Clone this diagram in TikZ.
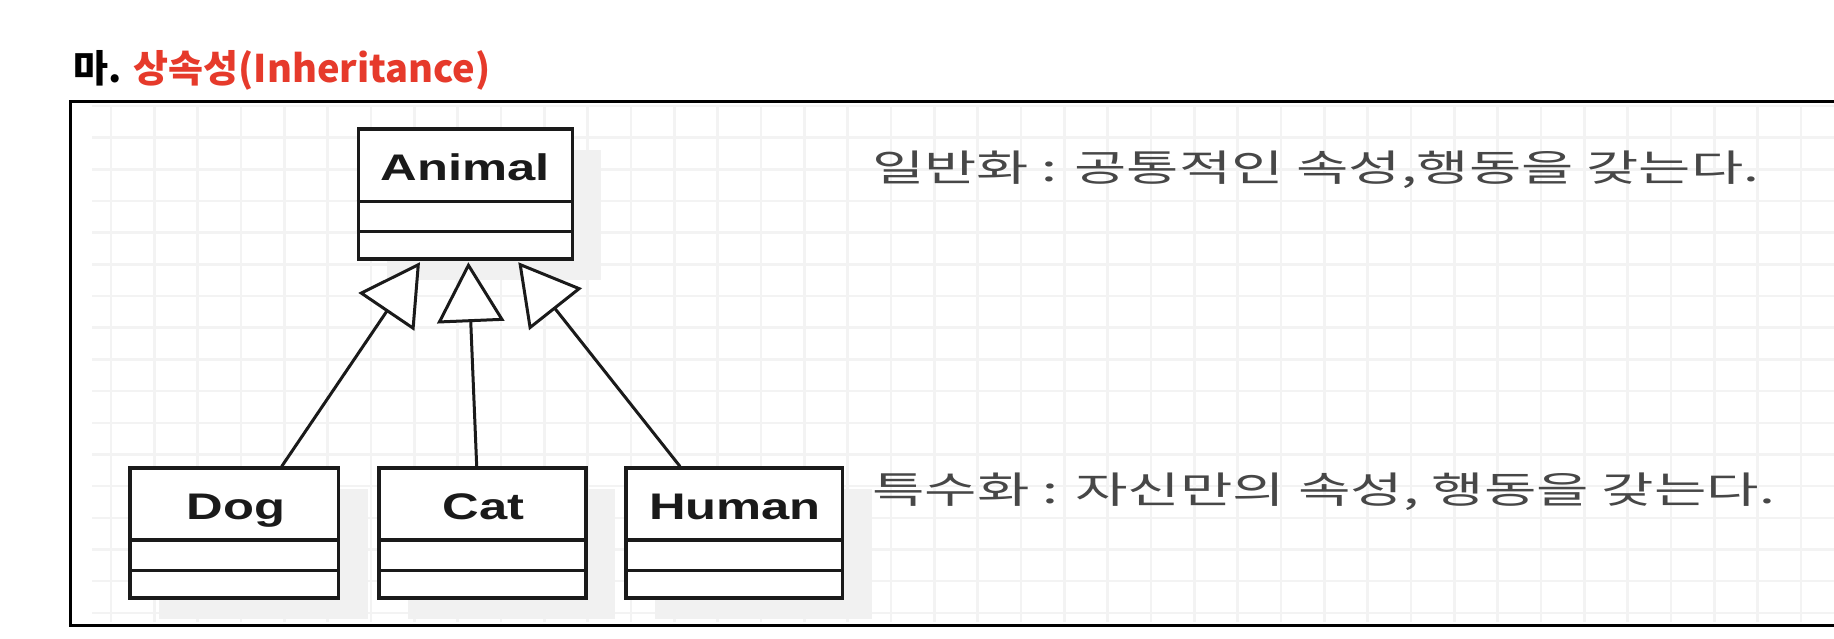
\documentclass[tikz,border=0pt]{standalone}
\usepackage{fontspec}
\usepackage{graphicx}
\setmainfont{Liberation Sans}
\newfontfamily\umlfont[FakeStretch=1.37]{Liberation Sans}
\newfontfamily\krfont{Noto Sans CJK KR}
\usetikzlibrary{arrows.meta}
\definecolor{titlered}{HTML}{E63A2B}
\definecolor{gridgray}{HTML}{F3F3F3}
\definecolor{shadowgray}{HTML}{F1F1F1}
\definecolor{ink}{HTML}{1A1A1A}
\begin{document}
\begin{tikzpicture}[x=1pt,y=-1pt,
  classbox/.style={draw=ink, line width=3.2pt, fill=white, inner sep=0pt, minimum height=130pt},
  shadowbox/.style={fill=shadowgray, draw=none},
  clsname/.style={font=\umlfont\bfseries\fontsize{37}{40}\selectfont, anchor=base, inner sep=0pt, text=ink},
  divline/.style={draw=ink, line width=3.2pt},
  inherit/.style={draw=ink, line width=3pt, -{Triangle[length=60pt, width=67pt, fill=white, line width=3pt]}},
  gridline/.style={draw=gridgray, line width=2.4pt},
  frameline/.style={draw=black, line width=3pt},
  krtext/.style={font=\krfont\fontsize{37}{40}\selectfont, text=black!72, anchor=base west, inner sep=0pt}]
\useasboundingbox (0,0) rectangle (1834,638);
\fill[white] (0,0) rectangle (1834,638);

% grid
\foreach \i in {0,...,39} {\draw[gridline] ({111+43.333*\i},105) -- ({111+43.333*\i},622);}
\foreach \j in {0,...,16} {\draw[gridline] (92,{106+31.67*\j}) -- (1834,{106+31.67*\j});}

% frame (open to the right)
\draw[frameline] (1840,101.7) -- (70.5,101.7) -- (70.5,625) -- (1840,625);

% title
\node[anchor=base west, inner sep=0pt] (title) at (73.5,82)
  {\resizebox{417pt}{\height}{\krfont\bfseries\fontsize{38}{40}\selectfont 마. \textcolor{titlered}{상속성(Inheritance)}}};

% shadows
\fill[shadowbox] (387.3,150) rectangle (601.3,280);
\fill[shadowbox] (159,489) rectangle (367.7,619);
\fill[shadowbox] (408,489) rectangle (615,619);
\fill[shadowbox] (655,489) rectangle (871.5,619);

% classes
\node[classbox, minimum width=214pt] (animal) at (465.3,194) {};
\draw[divline] ([yshift=-74.3pt]animal.north west) -- ([yshift=-74.3pt]animal.north east);
\draw[divline] ([yshift=-104.3pt]animal.north west) -- ([yshift=-104.3pt]animal.north east);
\node[clsname] (animal-name) at (465.3,180) {Animal};

\node[classbox, minimum width=208.7pt] (dog) at (234.3,533) {};
\draw[divline] ([yshift=-73.5pt]dog.north west) -- ([yshift=-73.5pt]dog.north east);
\draw[divline] ([yshift=-104pt]dog.north west) -- ([yshift=-104pt]dog.north east);
\node[clsname] (dog-name) at (236,519) {Dog};

\node[classbox, minimum width=207pt] (cat) at (482.5,533) {};
\draw[divline] ([yshift=-73.5pt]cat.north west) -- ([yshift=-73.5pt]cat.north east);
\draw[divline] ([yshift=-104pt]cat.north west) -- ([yshift=-104pt]cat.north east);
\node[clsname] (cat-name) at (483.6,519) {Cat};

\node[classbox, minimum width=216.5pt] (human) at (734.25,533) {};
\draw[divline] ([yshift=-73.5pt]human.north west) -- ([yshift=-73.5pt]human.north east);
\draw[divline] ([yshift=-104pt]human.north west) -- ([yshift=-104pt]human.north east);
\node[clsname] (human-name) at (735,519) {Human};

% inheritance arrows
\draw[inherit] ([xshift=47.4pt]dog.north) -- ([xshift=-45.3pt,yshift=-1.6pt]animal.south);
\draw[inherit] ([xshift=-5.8pt]cat.north) -- ([xshift=3pt,yshift=-1.6pt]animal.south);
\draw[inherit] ([xshift=-54.25pt]human.north) -- ([xshift=53pt,yshift=-1.6pt]animal.south);

% descriptions
\node[krtext] (general) at (872,181) {\resizebox{887pt}{\height}{일반화 : 공통적인 속성,행동을 갖는다.}};
\node[krtext] (special) at (872,503) {\resizebox{903pt}{\height}{특수화 : 자신만의 속성, 행동을 갖는다.}};
\end{tikzpicture}
\end{document}
